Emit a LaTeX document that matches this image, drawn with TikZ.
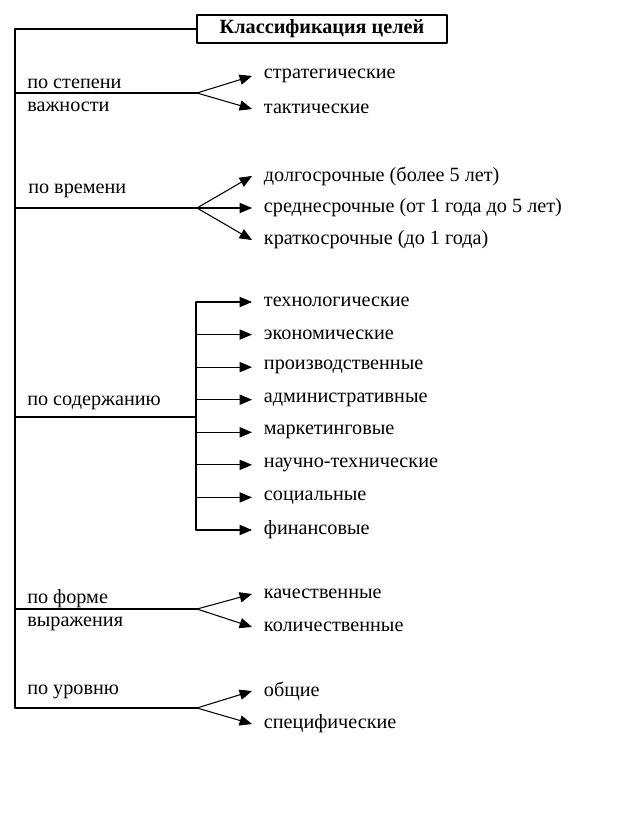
\documentclass[tikz,border=0pt]{standalone}
\usepackage{fontspec}
\setmainfont{Liberation Serif}
\newfontfamily\diagfont{Liberation Serif}
\usetikzlibrary{arrows}

\begin{document}
\begin{tikzpicture}[line cap=round,line join=round,>=triangle 45,x=0.02cm,y=-0.02cm,
  line width=0.6pt,
  every node/.style={font=\diagfont\fontsize{11.5}{11.5}\selectfont},
  titlebox/.style={draw,line width=0.8pt,minimum width=5cm,minimum height=0.56cm,inner sep=1pt,
    font=\diagfont\bfseries\fontsize{11.5}{13}\selectfont},
  leaf/.style={anchor=west,inner ysep=1pt,inner xsep=6.5pt},
  grp/.style={anchor=west,align=left,inner sep=1pt}]
\useasboundingbox (0,0) rectangle (623,817);

\node[titlebox] (title) at (322,29) {Классификация целей};

% trunk
\coordinate (t1) at (15,93);
\coordinate (t2) at (15,208);
\coordinate (t3) at (15,417);
\coordinate (t4) at (15,609);
\coordinate (t5) at (15,708);
\draw (title.west) -| (t5);

% po stepeni vazhnosti
\node[grp] (g1) at (25,95) {по степени\\[1.5pt]важности};
\coordinate (b1) at (197,93);
\node[leaf] (s1) at (252,76) {стратегические};
\node[leaf] (s2) at (252,109) {тактические};
\draw (t1) -- (b1);
\draw[->] (b1) -- (s1.west);
\draw[->] (b1) -- (s2.west);

% po vremeni
\node[grp] (g2) at (26,191) {по времени};
\coordinate (b2) at (197,208);
\node[leaf] (v1) at (252,176) {долгосрочные (более 5 лет)};
\node[leaf] (v2) at (252,208) {среднесрочные (от 1 года до 5 лет)};
\node[leaf] (v3) at (252,240) {краткосрочные (до 1 года)};
\draw (t2) -- (b2);
\draw[->] (b2) -- (v1.west);
\draw[->] (b2) -- (v2.west);
\draw[->] (b2) -- (v3.west);

% po soderzhaniyu
\node[grp] (g3) at (25,403) {по содержанию};
\coordinate (b3) at (196,417);
\foreach \t [count=\i] in {технологические,экономические,производственные,
  административные,маркетинговые,научно-технические,социальные,финансовые}
  \node[leaf] (c\i) at (252,{302+32.57*(\i-1)}) {\t};
\draw (t3) -- (b3);
\draw (c1.west -| b3) -- (c8.west -| b3);
\foreach \i in {1,...,8}
  \draw[->] (c\i.west -| b3) -- (c\i.west);

% po forme vyrazheniya
\node[grp] (g4) at (25,610) {по форме\\[1.5pt]выражения};
\coordinate (b4) at (197,609);
\node[leaf] (f1) at (252,594) {качественные};
\node[leaf] (f2) at (252,627) {количественные};
\draw (t4) -- (b4);
\draw[->] (b4) -- (f1.west);
\draw[->] (b4) -- (f2.west);

% po urovnyu
\node[grp] (g5) at (25,692) {по уровню};
\coordinate (b5) at (197,708);
\node[leaf] (u1) at (252,691) {общие};
\node[leaf] (u2) at (252,724) {специфические};
\draw (t5) -- (b5);
\draw[->] (b5) -- (u1.west);
\draw[->] (b5) -- (u2.west);
\end{tikzpicture}
\end{document}
